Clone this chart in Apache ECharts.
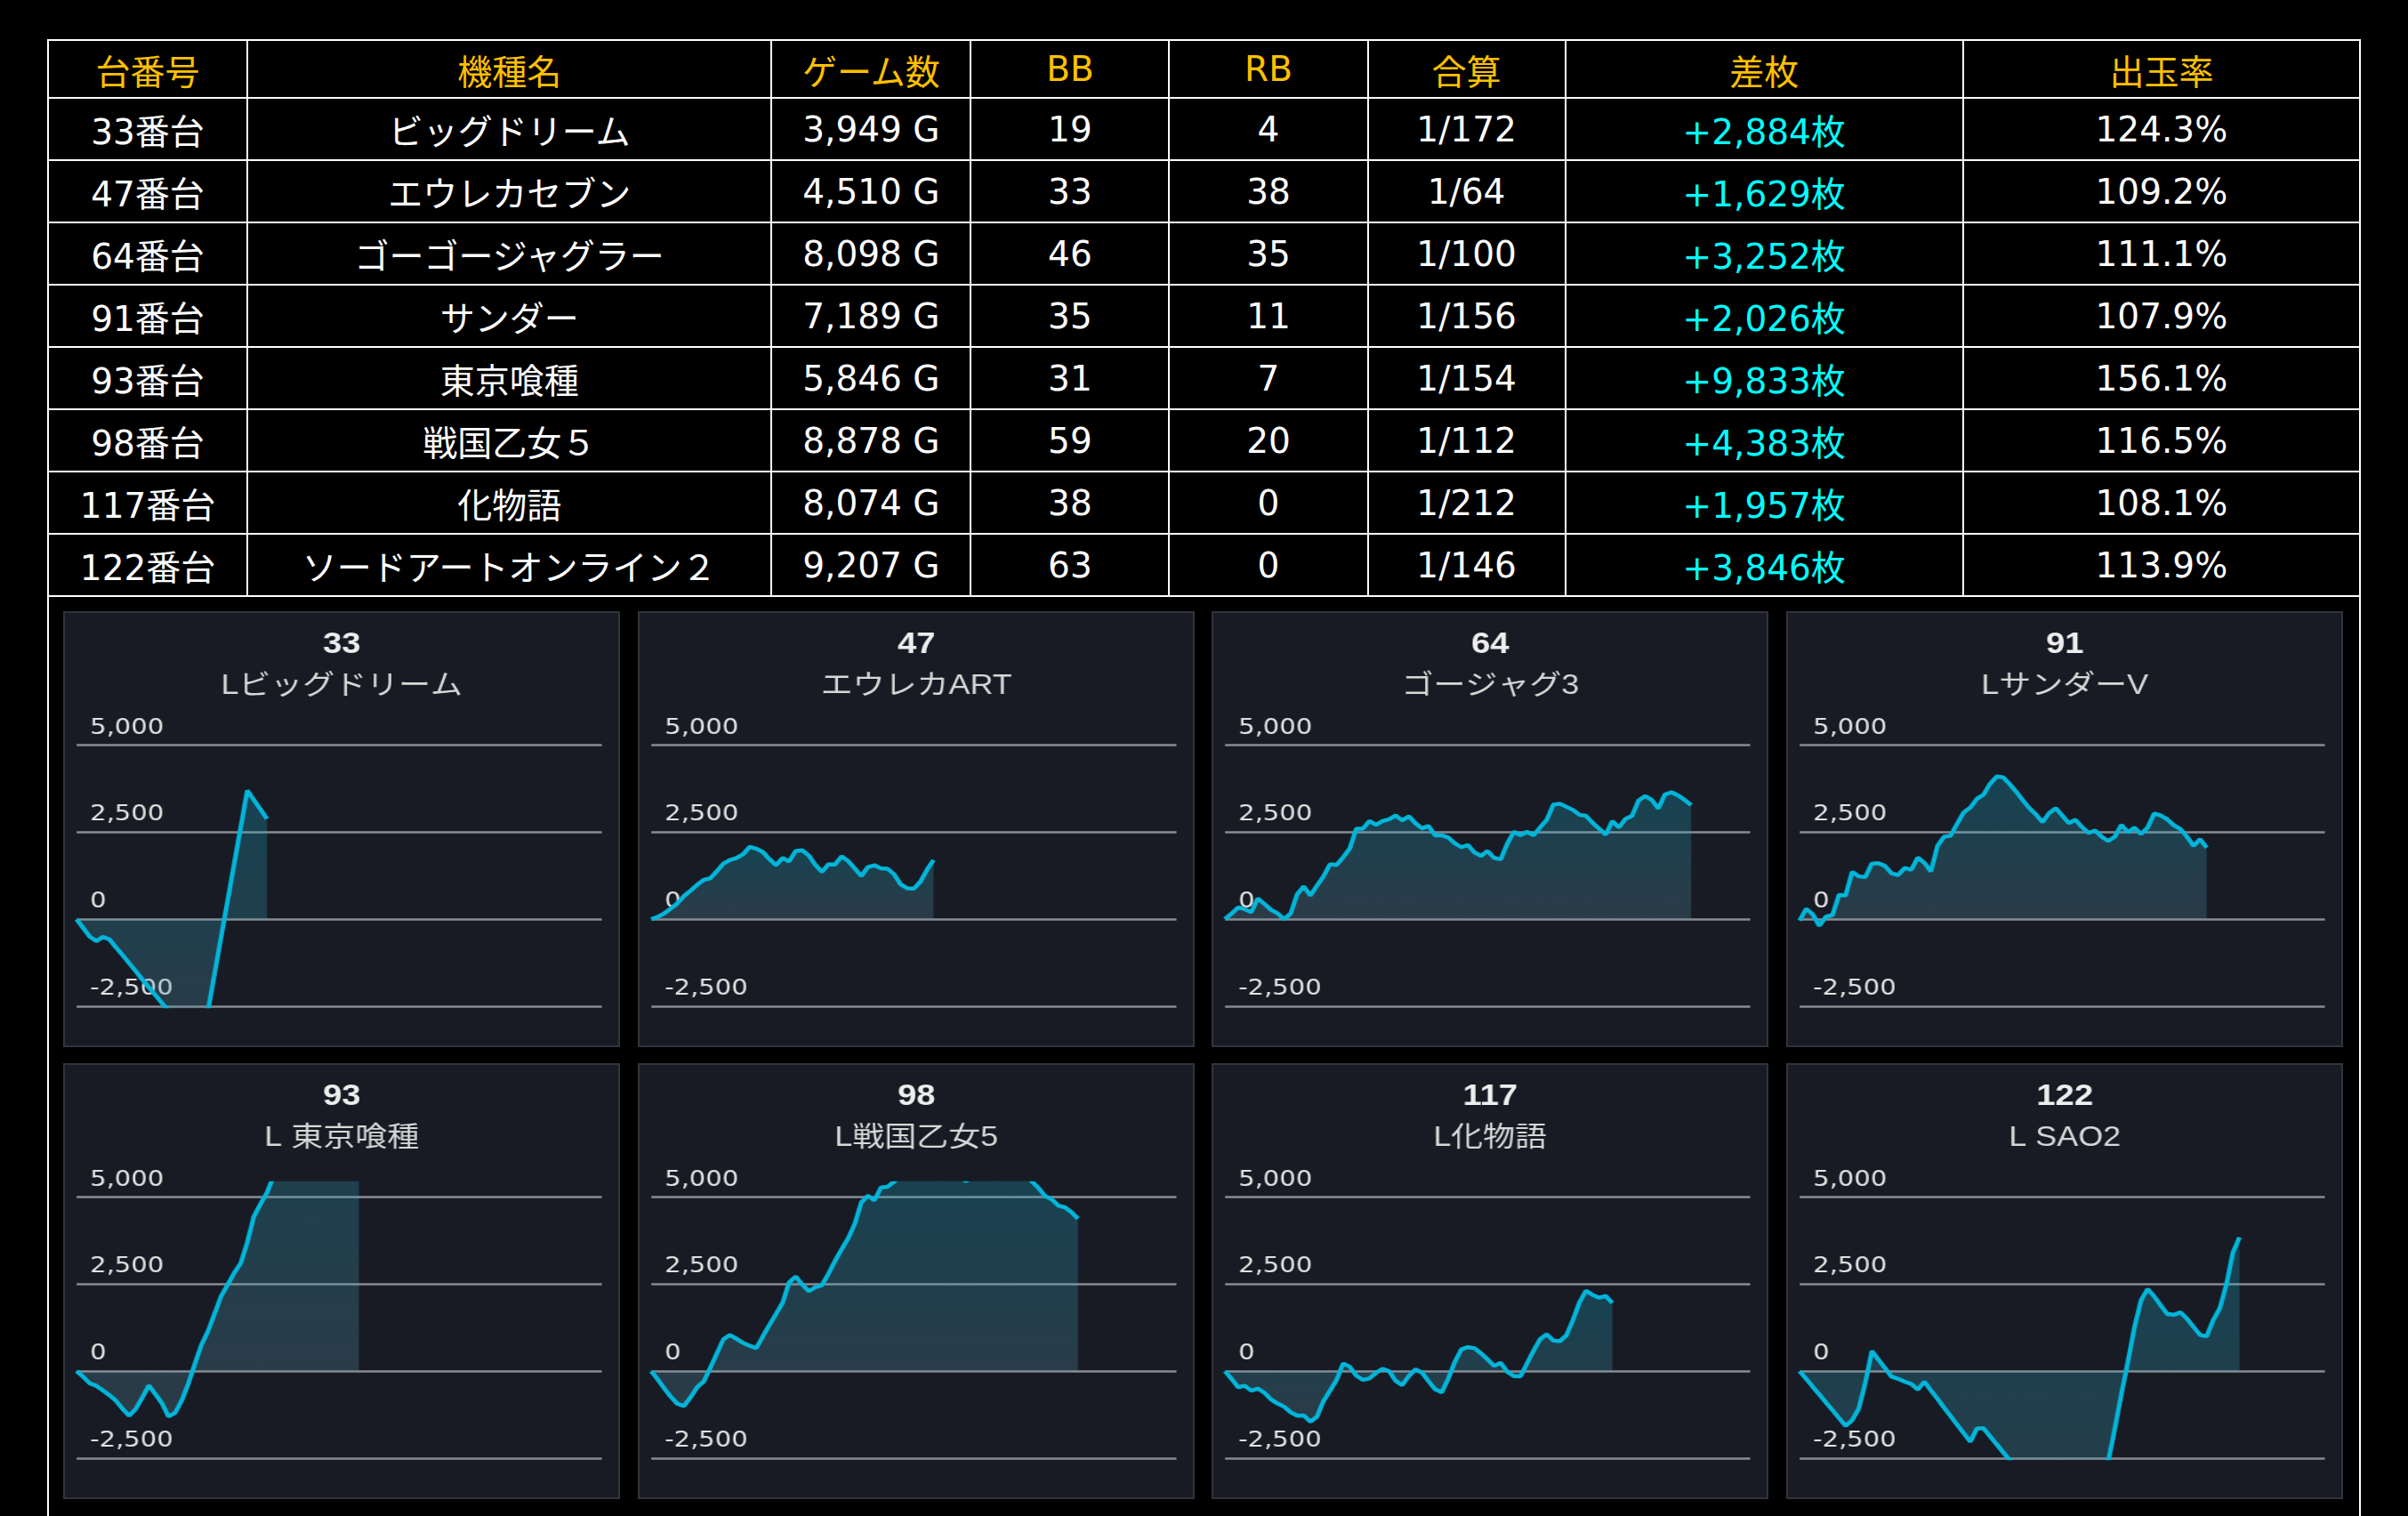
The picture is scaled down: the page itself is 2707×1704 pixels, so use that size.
<!DOCTYPE html>
<html>
<head>
<meta charset="utf-8">
<script src="https://cdn.jsdelivr.net/npm/echarts@6/dist/echarts.min.js"></script>
<style>
  body { margin: 0; background: #000; width: 2707px; height: 1704px; overflow: hidden; position: relative;
         font-family: "DejaVu Sans", "Noto Sans CJK JP", sans-serif; }
  #frame { position: absolute; left: 53px; top: 44px; width: 2601px; height: 1720px;
           border-left: 2px solid #fff; border-right: 2px solid #fff; box-sizing: border-box; }
  table { position: absolute; left: 53px; top: 44px; width: 2601px; border-collapse: collapse; table-layout: fixed; }
  th, td { border: 2px solid #fff; text-align: center; font-size: 39px; color: #fff; padding: 0; font-weight: normal; }
  th { color: #ffc000; height: 63px; }
  td { height: 68px; }
  td.diff { color: #00ffff; }
  .box { position: absolute; width: 626px; height: 490px; background: #181b24; border: 2px solid #31343c; box-sizing: border-box; }
  .chart { position: absolute; width: 540px; height: 490px; transform: scaleX(1.16); transform-origin: 0 0; }
</style>
</head>
<body>
<div id="frame"></div>
<table id="tbl"></table>
<div id="charts"></div>
<script>
// 表のデータ
const headers = ['台番号', '機種名', 'ゲーム数', 'BB', 'RB', '合算', '差枚', '出玉率'];
const colWidths = [224, 589, 224, 223, 223, 222, 447, 446];
const machineNo = ['33番台', '47番台', '64番台', '91番台', '93番台', '98番台', '117番台', '122番台'];
const machineName = ['ビッグドリーム', 'エウレカセブン', 'ゴーゴージャグラー', 'サンダー', '東京喰種', '戦国乙女５', '化物語', 'ソードアートオンライン２'];
const games = ['3,949 G', '4,510 G', '8,098 G', '7,189 G', '5,846 G', '8,878 G', '8,074 G', '9,207 G'];
const bb = [19, 33, 46, 35, 31, 59, 38, 63];
const rb = [4, 38, 35, 11, 7, 20, 0, 0];
const combined = ['1/172', '1/64', '1/100', '1/156', '1/154', '1/112', '1/212', '1/146'];
const diff = ['+2,884枚', '+1,629枚', '+3,252枚', '+2,026枚', '+9,833枚', '+4,383枚', '+1,957枚', '+3,846枚'];
const payout = ['124.3%', '109.2%', '111.1%', '107.9%', '156.1%', '116.5%', '108.1%', '113.9%'];

// グラフのデータ (横軸は80区切り)
const chartIds = ['33', '47', '64', '91', '93', '98', '117', '122'];
const chartNames = ['Lビッグドリーム', 'エウレカART', 'ゴージャグ3', 'LサンダーV', 'L 東京喰種', 'L戦国乙女5', 'L化物語', 'L SAO2'];
const s33 = [0, -250, -500, -630, -510, -580, -810, -1030, -1260, -1490, -1730, -1960, -2180, -2410, -2640, -2870, -3090, -3320, -3550, -3700,
  -2643, -1586, -529, 528, 1585, 2642, 3700, 3430, 3160, 2884];
const s47 = [0, 70, 170, 310, 460, 670, 820, 990, 1130, 1180, 1380, 1600, 1700, 1760, 1870, 2080, 2030, 1930, 1730, 1550,
  1760, 1660, 1960, 1980, 1830, 1560, 1360, 1580, 1570, 1810, 1670, 1460, 1240, 1500, 1550, 1460, 1450, 1290, 1000, 890,
  880, 1080, 1420, 1700];
const s64 = [0, 160, 340, 290, 200, 600, 440, 270, 170, 0, 160, 720, 940, 680, 960, 1230, 1580, 1560, 1780, 2030,
  2600, 2600, 2820, 2710, 2820, 2870, 2980, 2840, 2960, 2760, 2610, 2680, 2410, 2410, 2350, 2180, 2070, 2130, 1920, 1820,
  1960, 1760, 1720, 2170, 2510, 2410, 2510, 2410, 2640, 2850, 3290, 3320, 3230, 3140, 3000, 2970, 2770, 2600, 2430, 2820,
  2640, 2880, 2970, 3410, 3540, 3430, 3180, 3580, 3650, 3560, 3430, 3280];
const s91 = [-40, 300, 140, -190, 70, 120, 700, 680, 1360, 1230, 1210, 1600, 1610, 1530, 1320, 1270, 1470, 1420, 1770, 1620,
  1370, 2110, 2370, 2400, 2750, 3070, 3210, 3460, 3580, 3890, 4100, 4080, 3880, 3660, 3420, 3190, 3010, 2790, 3050, 3190,
  2980, 2760, 2860, 2650, 2480, 2550, 2370, 2250, 2370, 2710, 2500, 2630, 2450, 2630, 3040, 2980, 2870, 2700, 2590, 2370,
  2110, 2300, 2060];
const s93 = [0, -160, -350, -420, -550, -690, -850, -1080, -1280, -1090, -760, -410, -660, -920, -1300, -1200, -850, -370, 200, 750,
  1140, 1640, 2150, 2480, 2820, 3100, 3700, 4440, 4800, 5130, 5600, 6200, 6900, 7500, 8100, 8600, 8300, 8900, 9300, 9700,
  9400, 9900, 10200, 9833];
const s98 = [0, -240, -500, -740, -940, -1000, -750, -460, -300, 100, 510, 920, 1040, 930, 810, 730, 660, 1000, 1330, 1640,
  1960, 2550, 2720, 2490, 2300, 2410, 2470, 2800, 3170, 3500, 3820, 4230, 4850, 5040, 4910, 5280, 5300, 5450, 5600, 5800,
  5700, 5900, 6100, 5800, 5500, 5700, 6000, 5600, 5450, 5900, 6200, 5800, 5500, 5700, 5900, 5600, 5800, 5700, 5450, 5260,
  5030, 4940, 4760, 4710, 4570, 4383];
const s117 = [0, -220, -460, -420, -560, -500, -620, -810, -930, -1020, -1180, -1280, -1270, -1450, -1310, -860, -560, -250, 220, 130,
  -130, -250, -210, -50, 70, 0, -280, -400, -140, 50, -40, -290, -520, -610, -220, 260, 630, 690, 660, 510,
  340, 150, 240, -20, -140, -150, 220, 590, 920, 1060, 880, 860, 1030, 1470, 1980, 2310, 2190, 2110, 2160, 1957];
const s122 = [0, -220, -450, -670, -900, -1120, -1350, -1570, -1410, -1080, -340, 580, 330, 90, -160, -220, -300, -370, -530, -300,
  -554, -795, -1050, -1290, -1544, -1785, -2030, -1650, -1640, -1870, -2100, -2330, -2560, -2790, -3020, -3260, -3490, -3720, -3950, -4180,
  -4410, -4640, -4870, -5100, -5300, -4550, -3600, -2600, -1660, -670, 270, 1260, 2040, 2360, 2150, 1890, 1640, 1620, 1690, 1510,
  1270, 1040, 1000, 1470, 1810, 2490, 3410, 3846];
const chartSeries = [s33, s47, s64, s91, s93, s98, s117, s122];
const slotCount = 81;

// 表を作る
const tbl = document.getElementById('tbl');
let html = '<colgroup>' + colWidths.map(w => `<col style="width:${w}px">`).join('') + '</colgroup>';
html += '<tr>' + headers.map(h => `<th>${h}</th>`).join('') + '</tr>';
machineNo.forEach((no, i) => {
  html += `<tr><td>${no}</td><td>${machineName[i]}</td><td>${games[i]}</td><td>${bb[i]}</td><td>${rb[i]}</td>` +
    `<td>${combined[i]}</td><td class="diff">${diff[i]}</td><td>${payout[i]}</td></tr>`;
});
tbl.innerHTML = html;

// グラフを作る
const boxLeft = [71, 717, 1362, 2008];
const boxTop = [687, 1195];
const slots = Array.from({ length: slotCount }, (_, i) => String(i));
const holder = document.getElementById('charts');

chartIds.forEach((id, i) => {
  const left = boxLeft[i % 4];
  const top = boxTop[Math.floor(i / 4)];
  const box = document.createElement('div');
  box.className = 'box';
  box.style.left = left + 'px';
  box.style.top = top + 'px';
  holder.appendChild(box);
  const dom = document.createElement('div');
  dom.className = 'chart';
  dom.style.left = left + 'px';
  dom.style.top = top + 'px';
  holder.appendChild(dom);

  const myChart = echarts.init(dom);
  const option = {
    animation: false,
    title: [
      { text: id, left: 'center', top: 16,
        textStyle: { color: '#eeeeee', fontSize: 33, fontWeight: 'bold', fontFamily: '"Liberation Sans", "Noto Sans CJK JP"' } },
      { text: chartNames[i], left: 'center', top: 64,
        textStyle: { color: '#d8d8d8', fontSize: 31, fontWeight: 'normal', fontFamily: '"Liberation Sans", "Noto Sans CJK JP"' } }
    ],
    grid: { left: 13, right: 18, top: 135, bottom: 46 },
    xAxis: { type: 'category', data: slots, boundaryGap: false, show: false },
    yAxis: {
      type: 'value', min: -2500, max: 5400, interval: 2500,
      axisLine: { show: false }, axisTick: { show: false },
      splitLine: { show: true, showMaxLine: false, lineStyle: { color: '#888b92', width: 2.5 } },
      axisLabel: {
        inside: true, showMaxLabel: false, margin: 13, color: '#e2e2e2', fontSize: 25,
        fontFamily: '"DejaVu Sans"', verticalAlign: 'bottom', padding: [0, 0, 7, 0],
        formatter: v => v.toLocaleString('en-US')
      }
    },
    series: [{
      type: 'line', data: chartSeries[i], symbol: 'none', clip: true,
      lineStyle: { color: '#03b5d9', width: 4.5 },
      areaStyle: {
        color: new echarts.graphic.LinearGradient(0, 0, 0, 1, [
          { offset: 0, color: 'rgba(20,180,210,0.38)' },
          { offset: 1, color: 'rgba(100,150,170,0.38)' }
        ])
      }
    }]
  };
  myChart.setOption(option);
});
</script>
</body>
</html>
